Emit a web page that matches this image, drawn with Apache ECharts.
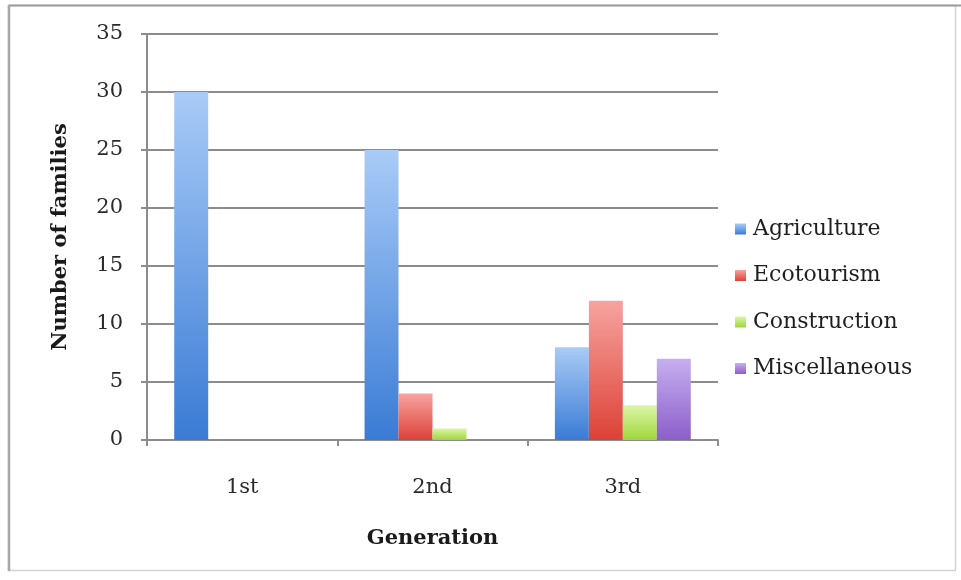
<!DOCTYPE html>
<html>
<head>
<meta charset="utf-8">
<script src="https://cdn.jsdelivr.net/npm/echarts@6/dist/echarts.min.js"></script>
<style>
  html, body { margin: 0; padding: 0; background: #ffffff; }
  #chart { width: 961px; height: 580px; }
</style>
</head>
<body>
<div id="chart"></div>
<script>
// Occupations of families by generation
const generations = ['1st', '2nd', '3rd'];
const agriculture = [30, 25, 8];
const ecotourism = [0, 4, 12];
const construction = [0, 1, 3];
const miscellaneous = [0, 0, 7];
const yTicks = [0, 5, 10, 15, 20, 25, 30, 35];

const FONT = 'DejaVu Serif';

function grad(top, bottom) {
  return new echarts.graphic.LinearGradient(0, 0, 0, 1, [
    { offset: 0, color: top },
    { offset: 1, color: bottom }
  ]);
}

const palette = {
  Agriculture: ['#a9cbf7', '#3a7bd5', '#4a86d8'],
  Ecotourism: ['#f7a3a0', '#dc4137', '#d9534f'],
  Construction: ['#dcf6a8', '#9fd63a', '#a8d65a'],
  Miscellaneous: ['#c6aff0', '#8b5ec9', '#8e6cc4']
};

function makeSeries(name, data) {
  const p = palette[name];
  return {
    name: name,
    type: 'bar',
    data: data,
    barGap: '0%',
    barCategoryGap: '28.6%',
    itemStyle: { color: grad(p[0], p[1]) }
  };
}

const chart = echarts.init(document.getElementById('chart'), null, { renderer: 'canvas' });

chart.setOption({
  animation: false,
  backgroundColor: '#ffffff',
  color: [palette.Agriculture[2], palette.Ecotourism[2], palette.Construction[2], palette.Miscellaneous[2]],
  graphic: [
    {
      type: 'rect',
      shape: { x: 8.5, y: 5.5, width: 947, height: 565 },
      style: { fill: 'none', stroke: '#d4d4d4', lineWidth: 1.5 },
      silent: true
    },
    {
      type: 'line',
      shape: { x1: 8.5, y1: 5.5, x2: 961, y2: 5.5 },
      style: { stroke: '#9a9a9a', lineWidth: 2 },
      silent: true
    },
    {
      type: 'line',
      shape: { x1: 9, y1: 5.5, x2: 9, y2: 571 },
      style: { stroke: '#a8a8a8', lineWidth: 2.5 },
      silent: true
    }
  ],
  grid: { left: 147, right: 243, top: 34, bottom: 140, containLabel: false },
  legend: {
    orient: 'vertical',
    left: 730,
    top: 213,
    itemWidth: 11,
    itemHeight: 11,
    itemGap: 24.5,
    icon: 'rect',
    textStyle: { fontFamily: FONT, fontSize: 22, color: '#1e1e1e', padding: [0, 0, 0, 2] },
    data: ['Agriculture', 'Ecotourism', 'Construction', 'Miscellaneous']
  },
  xAxis: {
    type: 'category',
    data: generations,
    name: 'Generation',
    nameLocation: 'middle',
    nameGap: 88,
    nameTextStyle: { fontFamily: FONT, fontSize: 21, fontWeight: 'bold', color: '#1a1a1a' },
    axisLine: { lineStyle: { color: '#8c8c8c', width: 2 } },
    axisTick: { show: true, length: 6, lineStyle: { color: '#8c8c8c', width: 2 } },
    axisLabel: { fontFamily: FONT, fontSize: 21, color: '#2a2a2a', margin: 37 }
  },
  yAxis: {
    type: 'value',
    min: yTicks[0],
    max: yTicks[yTicks.length - 1],
    interval: 5,
    name: 'Number of families',
    nameLocation: 'middle',
    nameGap: 76,
    nameTextStyle: { fontFamily: FONT, fontSize: 21, fontWeight: 'bold', color: '#1a1a1a' },
    axisLine: { show: true, lineStyle: { color: '#8c8c8c', width: 2 } },
    axisTick: { show: true, length: 6, lineStyle: { color: '#8c8c8c', width: 2 } },
    axisLabel: { fontFamily: FONT, fontSize: 21, color: '#2a2a2a', margin: 24 },
    splitLine: { show: true, lineStyle: { color: '#8c8c8c', width: 2 } }
  },
  series: [
    makeSeries('Agriculture', agriculture),
    makeSeries('Ecotourism', ecotourism),
    makeSeries('Construction', construction),
    makeSeries('Miscellaneous', miscellaneous)
  ]
});
</script>
</body>
</html>
